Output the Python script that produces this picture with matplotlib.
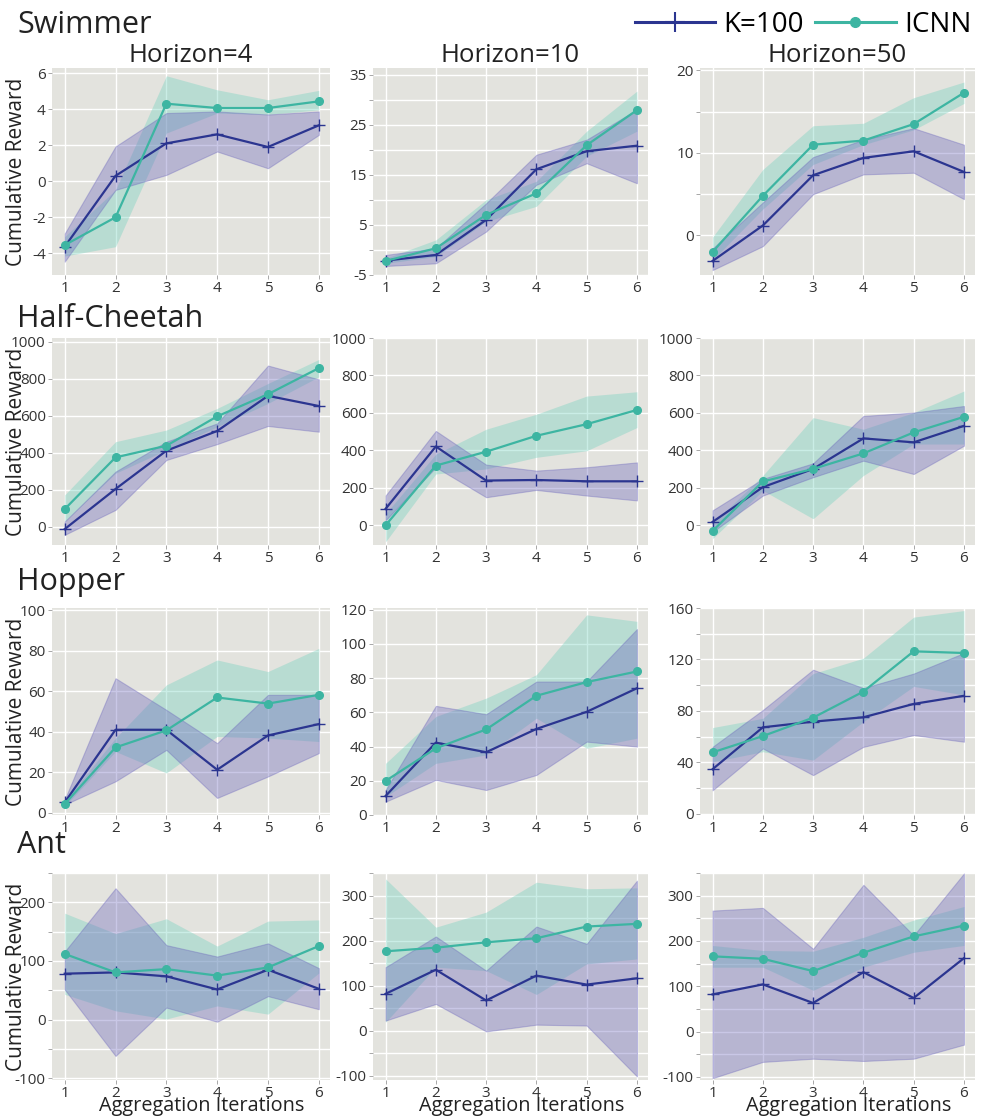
import matplotlib
matplotlib.use("Agg")
import matplotlib.pyplot as plt
from matplotlib.lines import Line2D
from matplotlib.ticker import MultipleLocator, FixedLocator

plt.rcParams['font.family'] = ['Open Sans', 'DejaVu Sans']

iterations = [1, 2, 3, 4, 5, 6]
envs = ["Swimmer", "Half-Cheetah", "Hopper", "Ant"]
horizons = ["Horizon=4", "Horizon=10", "Horizon=50"]
legend_labels = ["K=100", "ICNN"]

# ---------------- Swimmer ----------------
swim4_k = [-3.63, 0.3, 2.1, 2.6, 1.9, 3.1]
swim4_k_lo = [-4.46, -0.48, 0.35, 1.65, 0.72, 2.57]
swim4_k_hi = [-2.9, 1.93, 3.78, 3.87, 3.7, 3.87]
swim4_i = [-3.54, -2.0, 4.3, 4.06, 4.06, 4.43]
swim4_i_lo = [-4.15, -3.63, 2.67, 3.78, 3.7, 3.96]
swim4_i_hi = [-3.07, -0.48, 5.85, 5.07, 4.52, 5.04]

swim10_k = [-2.13, -1.0, 6.0, 16.1, 19.7, 20.8]
swim10_k_lo = [-3.2, -2.67, 3.67, 13.0, 17.3, 13.3]
swim10_k_hi = [-1.0, 0.33, 9.3, 19.0, 22.0, 28.0]
swim10_i = [-2.2, 0.33, 7.0, 11.3, 20.9, 27.9]
swim10_i_lo = [-2.67, -1.33, 5.67, 8.7, 18.7, 23.7]
swim10_i_hi = [-1.67, 2.0, 10.0, 13.7, 23.7, 31.7]

swim50_k = [-3.1, 1.2, 7.3, 9.4, 10.2, 7.7]
swim50_k_lo = [-4.2, -1.3, 5.0, 7.4, 7.6, 4.4]
swim50_k_hi = [-1.6, 4.0, 9.5, 11.6, 13.0, 11.0]
swim50_i = [-2.0, 4.8, 11.0, 11.5, 13.5, 17.3]
swim50_i_lo = [-3.0, 3.2, 8.6, 11.0, 12.8, 16.0]
swim50_i_hi = [-0.2, 8.0, 13.3, 13.6, 16.7, 18.6]

# ---------------- Half-Cheetah ----------------
hc4_k = [-14, 203, 410, 517, 707, 652]
hc4_k_lo = [-45, 90, 360, 446, 544, 513]
hc4_k_hi = [27, 297, 459, 558, 871, 796]
hc4_i = [94, 374, 437, 596, 716, 857]
hc4_i_lo = [27, 288, 414, 540, 666, 810]
hc4_i_hi = [171, 459, 522, 639, 774, 904]

hc10_k = [88, 421, 239, 242, 235, 235]
hc10_k_lo = [27, 310, 150, 189, 159, 133]
hc10_k_hi = [159, 504, 324, 292, 310, 336]
hc10_i = [0, 319, 393, 478, 540, 616]
hc10_i_lo = [-88, 274, 301, 363, 398, 522]
hc10_i_hi = [62, 380, 513, 593, 690, 713]

hc50_k = [18, 204, 301, 464, 443, 531]
hc50_k_lo = [-35, 159, 257, 345, 274, 425]
hc50_k_hi = [80, 248, 331, 584, 602, 637]
hc50_i = [-30, 234, 301, 384, 496, 579]
hc50_i_lo = [-71, 186, 35, 266, 434, 434]
hc50_i_hi = [9, 266, 575, 513, 602, 717]

# ---------------- Hopper ----------------
hop4_k = [5.2, 41, 41, 21.3, 38.2, 43.8]
hop4_k_lo = [4.1, 15.6, 31.1, 7.4, 18, 29.5]
hop4_k_hi = [6.6, 66.4, 50.8, 34.4, 58.2, 58.2]
hop4_i = [4.4, 32.3, 40.7, 56.9, 53.9, 58.2]
hop4_i_lo = [3.3, 30.3, 19.7, 37.7, 36.9, 35.2]
hop4_i_hi = [5.7, 36.9, 63.1, 75.4, 69.7, 81.1]

hop10_k = [11.1, 42.3, 36.7, 50.3, 60.3, 74.1]
hop10_k_lo = [7.8, 20.5, 14.6, 23.4, 42.9, 40]
hop10_k_hi = [14.6, 63.8, 58.9, 78, 78, 108.7]
hop10_i = [19.9, 39, 50, 69.7, 77.7, 83.9]
hop10_i_lo = [10.7, 30.2, 35.1, 56.6, 39, 44.9]
hop10_i_hi = [30.2, 57.6, 68.3, 82, 117, 113.2]

hop50_k = [34.6, 67.2, 71.6, 75, 85.4, 91.7]
hop50_k_lo = [18.2, 50.8, 30, 52, 61.2, 56]
hop50_k_hi = [52, 80.7, 112, 97.7, 109, 125]
hop50_i = [47.7, 60.4, 74.7, 95, 126.3, 125]
hop50_i_lo = [40.4, 48.2, 41.7, 71.6, 99, 92.4]
hop50_i_hi = [67, 74.2, 109, 121, 152.9, 158]

# ---------------- Ant ----------------
ant4_k = [78.3, 80.5, 73.8, 51.4, 85, 52.5]
ant4_k_lo = [51.4, -62, 20.5, -3.6, 40, 17.7]
ant4_k_hi = [116, 224, 127, 107.5, 130, 87.8]
ant4_i = [112, 80.5, 86.1, 75, 89, 125.4]
ant4_i_lo = [43, 15, 1, 23.3, 9.3, 79.4]
ant4_i_hi = [181.5, 146.7, 172, 125.4, 168, 170]

ant10_k = [81.5, 135, 66.7, 122, 102, 116]
ant10_k_lo = [22, 59, -2, 13, 11, -102]
ant10_k_hi = [140.7, 209, 133, 231, 192.6, 333]
ant10_i = [176, 184, 196, 205, 231, 237]
ant10_i_lo = [18.5, 140.7, 133, 80, 148, 159]
ant10_i_hi = [337, 229.6, 263, 329.6, 315, 317]

ant50_k = [82, 104, 63, 131, 74, 162]
ant50_k_lo = [-103, -67, -60, -65, -60, -29]
ant50_k_hi = [267, 273, 182.6, 324, 212, 349]
ant50_i = [166, 160.6, 133.4, 174, 210, 234]
ant50_i_lo = [142, 142, 91, 142, 175, 190]
ant50_i_hi = [190, 179, 177.4, 208, 246, 276]

panels = [
    [(swim4_k, swim4_k_lo, swim4_k_hi, swim4_i, swim4_i_lo, swim4_i_hi),
     (swim10_k, swim10_k_lo, swim10_k_hi, swim10_i, swim10_i_lo, swim10_i_hi),
     (swim50_k, swim50_k_lo, swim50_k_hi, swim50_i, swim50_i_lo, swim50_i_hi)],
    [(hc4_k, hc4_k_lo, hc4_k_hi, hc4_i, hc4_i_lo, hc4_i_hi),
     (hc10_k, hc10_k_lo, hc10_k_hi, hc10_i, hc10_i_lo, hc10_i_hi),
     (hc50_k, hc50_k_lo, hc50_k_hi, hc50_i, hc50_i_lo, hc50_i_hi)],
    [(hop4_k, hop4_k_lo, hop4_k_hi, hop4_i, hop4_i_lo, hop4_i_hi),
     (hop10_k, hop10_k_lo, hop10_k_hi, hop10_i, hop10_i_lo, hop10_i_hi),
     (hop50_k, hop50_k_lo, hop50_k_hi, hop50_i, hop50_i_lo, hop50_i_hi)],
    [(ant4_k, ant4_k_lo, ant4_k_hi, ant4_i, ant4_i_lo, ant4_i_hi),
     (ant10_k, ant10_k_lo, ant10_k_hi, ant10_i, ant10_i_lo, ant10_i_hi),
     (ant50_k, ant50_k_lo, ant50_k_hi, ant50_i, ant50_i_lo, ant50_i_hi)],
]

ylims = [
    [(-5.2, 6.28), (-5, 36.3), (-4.8, 20.3)],
    [(-100, 1020), (-105, 1000), (-105, 1000)],
    [(-1, 101), (0, 121), (-1, 160)],
    [(-103, 250), (-110, 350), (-107, 350)],
]
yticks = [
    [[-4, -2, 0, 2, 4, 6], [-5, 5, 15, 25, 35], [0, 10, 20]],
    [[0, 200, 400, 600, 800, 1000]] * 3,
    [[0, 20, 40, 60, 80, 100], [0, 20, 40, 60, 80, 100, 120], [0, 40, 80, 120, 160]],
    [[-100, 0, 100, 200], [-100, 0, 100, 200, 300], [-100, 0, 100, 200, 300]],
]
yminor = [
    [None, 5, 5],
    [None, None, None],
    [None, None, 20],
    [50, 50, 50],
]

K_LINE = "#2b3590"
K_FILL = "#6a64bc"
I_LINE = "#3db5a2"
I_FILL = "#74d2bf"
BG = "#e3e3de"

W, H = 985, 1116
fig = plt.figure(figsize=(W / 100, H / 100), dpi=100)

col_left = [52, 373, 700]
col_width = [278, 275, 275]
row_top = [68, 338, 608, 873]
row_h = 207
row_title_y = [33, 327, 590, 853]

for r in range(4):
    for c in range(3):
        l = col_left[c]
        t = row_top[r]
        ax = fig.add_axes([l / W, 1 - (t + row_h) / H, col_width[c] / W, row_h / H])
        ax.set_facecolor(BG)
        for s in ax.spines.values():
            s.set_visible(False)
        km, klo, khi, im, ilo, ihi = panels[r][c]
        ax.fill_between(iterations, ilo, ihi, color=I_FILL, alpha=0.38, lw=0,
                        zorder=2)
        ax.fill_between(iterations, klo, khi, color=K_FILL, alpha=0.36, lw=0.8,
                        edgecolor=K_FILL, zorder=3)
        ax.plot(iterations, km, color=K_LINE, lw=1.6, marker='+', ms=9, mew=1.0,
                zorder=4)
        ax.plot(iterations, im, color=I_LINE, lw=1.6, marker='o', ms=5.5,
                zorder=5)
        ax.set_xlim(0.75, 6.22)
        ax.set_ylim(*ylims[r][c])
        ax.set_xticks(iterations)
        ax.yaxis.set_major_locator(FixedLocator(yticks[r][c]))
        ax.set_yticklabels([str(v) for v in yticks[r][c]])
        if yminor[r][c] is not None:
            ax.yaxis.set_minor_locator(MultipleLocator(yminor[r][c]))
            ax.grid(True, which='minor', axis='y', color='white', lw=1.0, zorder=0)
        ax.grid(True, which='major', color='white', lw=1.0, zorder=0)
        ax.set_axisbelow(True)
        ax.tick_params(which='both', length=3, width=0.6, color='#999999',
                       labelsize=11, labelcolor='#333333', pad=1.5)
        if c == 0:
            ax.set_ylabel("Cumulative Reward", fontsize=15, color='#222222')
            ax.yaxis.set_label_coords(-0.09, 0.5)
        if r == 0:
            ax.set_title(horizons[c], fontsize=18.5, pad=3, color='#222222')
        if r == 3:
            ax.set_xlabel("Aggregation Iterations", fontsize=14.3, color='#222222')
            ax.xaxis.set_label_coords(0.54, -(1111 - 1080) / row_h)
            ax.xaxis.label.set_va('baseline')
    fig.text(17 / W, 1 - row_title_y[r] / H, envs[r], fontsize=22,
             va='baseline', ha='left', color='#222222')

handles = [
    Line2D([], [], color=K_LINE, lw=2.2, marker='+', ms=14, mew=1.5),
    Line2D([], [], color=I_LINE, lw=2.2, marker='o', ms=7),
]
fig.legend(handles, legend_labels, loc='center right',
           bbox_to_anchor=(988 / W, 1 - 25 / H), ncol=2, frameon=False,
           fontsize=20, handlelength=2.9, handletextpad=0.3, columnspacing=0.4,
           borderpad=0.1, numpoints=1)

fig.savefig("out.png", dpi=100)
